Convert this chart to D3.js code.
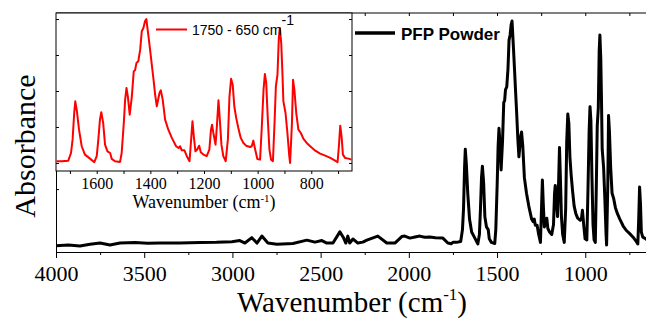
<!DOCTYPE html>
<html>
<head>
<meta charset="utf-8">
<script src="https://cdn.jsdelivr.net/npm/d3@7"></script>
<style>
  body{margin:0;background:#fff}
  svg{display:block}
  .serif{font-family:'Liberation Serif','Times New Roman',serif}
  .sans{font-family:'Liberation Sans',Arial,sans-serif}
</style>
</head>
<body>
<svg id="chart" width="646" height="324"></svg>
<script>
// spectrum above 1750 cm-1
const survey = [
  [4000,-0.003],[3930,0.000],[3864,-0.004],[3807,0.004],[3750,0.009],[3694,0.000],[3637,0.009],
  [3552,0.011],[3480,0.008],[3411,0.009],[3298,0.009],[3184,0.011],[3090,0.012],[3003,0.015],
  [2958,0.020],[2929,0.009],[2890,0.033],[2861,0.009],[2833,0.040],[2799,0.009],[2748,0.004],
  [2657,0.007],[2578,0.022],[2532,0.013],[2493,0.020],[2465,0.009],[2430,0.009],[2391,0.059],
  [2372,0.035],[2357,0.009],[2346,0.040],[2335,0.009],[2317,0.027],[2289,0.009],[2261,0.013],
  [2238,0.022],[2176,0.040],[2125,0.009],[2079,0.009],[2040,0.038],[2023,0.040],[1994,0.031],
  [1965,0.036],[1938,0.040],[1910,0.035],[1881,0.036],[1850,0.033],[1807,0.031],[1779,0.009],
  [1760,0.006]
];

// fingerprint region 1750 - 650 cm-1
const fingerprint = [
  [1750,0.012],[1731,0.012],[1706,0.016],[1696,0.069],[1690,0.162],[1684,0.347],[1680,0.428],
  [1674,0.361],[1666,0.231],[1656,0.116],[1644,0.058],[1625,0.030],[1609,0.005],[1600,0.047],
  [1594,0.162],[1588,0.301],[1583,0.352],[1576,0.278],[1569,0.127],[1560,0.081],[1550,0.069],
  [1544,0.028],[1532,0.012],[1513,0.007],[1507,0.069],[1499,0.278],[1494,0.440],[1489,0.521],
  [1484,0.463],[1477,0.335],[1469,0.463],[1462,0.637],[1457,0.644],[1452,0.694],[1445,0.706],
  [1438,0.787],[1432,0.915],[1426,0.938],[1420,0.984],[1415,1.000],[1407,0.880],[1401,0.785],
  [1395,0.688],[1388,0.576],[1382,0.472],[1376,0.394],[1366,0.486],[1361,0.505],[1354,0.440],
  [1345,0.301],[1333,0.231],[1320,0.174],[1304,0.116],[1295,0.104],[1289,0.116],[1283,0.088],
  [1273,0.088],[1264,0.047],[1254,0.012],[1248,0.162],[1243,0.290],[1238,0.185],[1232,0.081],
  [1226,0.092],[1218,0.120],[1212,0.074],[1202,0.058],[1190,0.047],[1180,0.092],[1174,0.231],
  [1170,0.266],[1165,0.208],[1157,0.127],[1152,0.255],[1146,0.435],[1141,0.301],[1135,0.127],
  [1128,0.047],[1119,0.012],[1111,0.162],[1105,0.463],[1099,0.585],[1093,0.544],[1087,0.394],
  [1080,0.313],[1072,0.243],[1063,0.174],[1053,0.139],[1043,0.120],[1028,0.111],[1022,0.116],
  [1016,0.155],[1009,0.092],[1001,0.028],[991,0.023],[985,0.231],[978,0.509],[973,0.618],
  [968,0.556],[962,0.301],[956,0.092],[950,0.023],[943,0.012],[937,0.278],[932,0.533],
  [926,0.613],[921,0.868],[917,0.938],[912,0.833],[908,0.648],[904,0.428],[896,0.347],
  [889,0.208],[882,0.047],[879,0.000],[872,0.278],[868,0.578],[863,0.509],[856,0.347],
  [848,0.231],[839,0.208],[829,0.167],[817,0.139],[804,0.116],[785,0.085],[767,0.065],
  [748,0.051],[729,0.035],[711,0.016],[702,0.005],[697,0.116],[692,0.259],[687,0.185],
  [682,0.058],[674,0.035],[661,0.030],[650,0.023]
];

const mainMajor = [4000, 3500, 3000, 2500, 2000, 1500, 1000];
const mainMinor = [3750, 3250, 2750, 2250, 1750, 1250, 750];
const mainYTicks = [0, 0.25, 0.5, 0.75, 1.0];
const insetMajor = [1600, 1400, 1200, 1000, 800];
const insetMinor = [1700, 1500, 1300, 1100, 900, 700];
const insetYTicks = [0, 0.25, 0.5, 0.75, 1.0];
const mainLegend = 'PFP Powder';
const insetLegend = '1750 - 650 cm';

const svg = d3.select('#chart');
const fmt = d3.format('d');

const m = { left: 56, right: 647, top: 13, bottom: 252 };
const x = d3.scaleLinear().domain([4000, 650]).range([m.left, m.right]);
const y = d3.scaleLinear().domain([-0.031, 1.036]).range([m.bottom, m.top]);

// main frame: top + left
svg.append('line').attr('x1', m.left).attr('x2', m.right).attr('y1', m.top).attr('y2', m.top)
  .attr('stroke', '#000').attr('stroke-width', 1);

const bottomAxis = svg.append('g').attr('transform', `translate(0,${m.bottom})`)
  .call(d3.axisBottom(x).tickValues(mainMajor).tickFormat(fmt).tickSize(6).tickPadding(7).tickSizeOuter(0));
bottomAxis.selectAll('text').attr('class', 'serif').style('font-size', '22px').attr('fill', '#000');
svg.append('g').attr('transform', `translate(0,${m.bottom})`)
  .call(d3.axisBottom(x).tickValues(mainMinor).tickSize(3).tickFormat('').tickSizeOuter(0))
  .select('.domain').remove();
svg.append('g').attr('transform', `translate(0,${m.top})`)
  .call(d3.axisBottom(x).tickValues(mainMajor.concat(mainMinor)).tickSize(3).tickFormat('').tickSizeOuter(0))
  .select('.domain').remove();
svg.append('g').attr('transform', `translate(${m.left},0)`)
  .call(d3.axisRight(y).tickValues(mainYTicks).tickSize(3).tickFormat('').tickSizeOuter(0));
svg.selectAll('.domain, .tick line').attr('stroke', '#000');

svg.append('defs').append('clipPath').attr('id', 'clipMain')
  .append('rect').attr('x', m.left).attr('y', m.top).attr('width', m.right - m.left).attr('height', m.bottom - m.top);

const line = d3.line().x(d => x(d[0])).y(d => y(d[1]));
svg.append('path').datum(survey.concat(fingerprint))
  .attr('clip-path', 'url(#clipMain)')
  .attr('d', line).attr('fill', 'none').attr('stroke', '#000')
  .attr('stroke-width', 3).attr('stroke-linejoin', 'round');

// main legend
svg.append('line').attr('x1', 355).attr('x2', 395).attr('y1', 33).attr('y2', 33)
  .attr('stroke', '#000').attr('stroke-width', 3.5);
svg.append('text').attr('class', 'sans').attr('x', 401).attr('y', 39.5)
  .style('font-size', '17px').style('font-weight', 'bold').text(mainLegend);

// axis titles
const xt = svg.append('text').attr('class', 'serif').attr('x', 352).attr('y', 312)
  .attr('text-anchor', 'middle').style('font-size', '29px');
xt.append('tspan').text('Wavenumber (cm');
xt.append('tspan').attr('dy', -12).style('font-size', '17px').text('-1');
xt.append('tspan').attr('dy', 12).text(')');

svg.append('text').attr('class', 'serif')
  .attr('transform', 'translate(35,146) rotate(-90)')
  .attr('text-anchor', 'middle').style('font-size', '30px').text('Absorbance');

// inset
const ib = { left: 56, right: 352, top: 13, bottom: 171 };
const xi = d3.scaleLinear().domain([1750, 650]).range([56.5, 351.5]);
const yi = d3.scaleLinear().domain([-0.056, 1.042]).range([ib.bottom, ib.top]);
const inset = svg.append('g');
inset.append('rect').attr('x', ib.left).attr('y', ib.top)
  .attr('width', ib.right - ib.left).attr('height', ib.bottom - ib.top)
  .attr('fill', '#fff').attr('stroke', '#000').attr('stroke-width', 1);

const ixAxis = inset.append('g').attr('transform', `translate(0,${ib.bottom})`)
  .call(d3.axisBottom(xi).tickValues(insetMajor).tickFormat(fmt).tickSize(3).tickPadding(4).tickSizeOuter(0));
ixAxis.select('.domain').remove();
ixAxis.selectAll('text').attr('class', 'serif').style('font-size', '16px').attr('fill', '#000');
inset.append('g').attr('transform', `translate(0,${ib.bottom})`)
  .call(d3.axisBottom(xi).tickValues(insetMinor).tickSize(3).tickFormat(''))
  .select('.domain').remove();
inset.append('g').attr('transform', `translate(${ib.left},0)`)
  .call(d3.axisRight(yi).tickValues(insetYTicks).tickSize(3).tickFormat(''))
  .select('.domain').remove();
inset.append('g').attr('transform', `translate(${ib.right},0)`)
  .call(d3.axisLeft(yi).tickValues(insetYTicks).tickSize(3).tickFormat(''))
  .select('.domain').remove();
inset.selectAll('.tick line').attr('stroke', '#000');

const lineI = d3.line().x(d => xi(d[0])).y(d => yi(d[1]));
inset.append('path').datum(fingerprint)
  .attr('d', lineI).attr('fill', 'none').attr('stroke', '#ff0000')
  .attr('stroke-width', 2).attr('stroke-linejoin', 'round');

inset.append('line').attr('x1', 156).attr('x2', 187).attr('y1', 29.5).attr('y2', 29.5)
  .attr('stroke', '#ff0000').attr('stroke-width', 2);
const lt = inset.append('text').attr('class', 'sans').attr('x', 192).attr('y', 35)
  .style('font-size', '14px');
lt.append('tspan').text(insetLegend);
lt.append('tspan').attr('dy', -10).style('font-size', '14px').text('-1');

const it = inset.append('text').attr('class', 'serif').attr('x', 204).attr('y', 208)
  .attr('text-anchor', 'middle').style('font-size', '18px');
it.append('tspan').text('Wavenumber (cm');
it.append('tspan').attr('dy', -6).style('font-size', '11px').text('-1');
it.append('tspan').attr('dy', 6).text(')');
</script>
</body>
</html>
